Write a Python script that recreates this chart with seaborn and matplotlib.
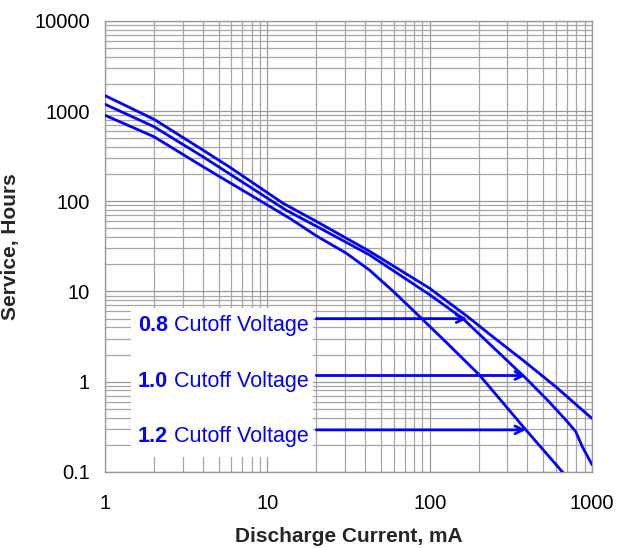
import matplotlib
matplotlib.use('Agg')
import matplotlib.pyplot as plt
import matplotlib.patches as patches
import seaborn as sns
import pandas as pd

# service hours vs discharge current, one curve per cutoff voltage
current_08 = [1, 2, 4, 5.87, 12.5, 20, 42.5, 99.5, 171, 244, 372, 597, 1000]
hours_08 = [1486, 813, 371, 239, 95, 60, 28, 10.9, 5.27, 3.16, 1.75, 0.88, 0.39]

current_10 = [1, 2, 4, 5.87, 13, 20, 42.5, 100, 159, 391, 543, 688, 793, 871, 1000]
hours_10 = [1192, 673, 313, 201, 80, 53, 25.5, 9.2, 5.06, 1.09, 0.60, 0.377, 0.28, 0.19, 0.12]

current_12 = [1, 2, 4, 5.87, 13.7, 20, 30.6, 42.5, 59, 82, 130, 202, 391, 656, 720]
hours_12 = [900, 521, 243, 161, 65, 41.5, 26.6, 17.3, 10.2, 5.8, 2.6, 1.19, 0.292, 0.1, 0.083]

cutoff_labels = ['0.8', '1.0', '1.2']
arrow_hours = [5.0, 1.17, 0.292]
arrow_current = [170, 391, 391]

df = pd.concat([
    pd.DataFrame({'current': current_08, 'hours': hours_08, 'cutoff': '0.8'}),
    pd.DataFrame({'current': current_10, 'hours': hours_10, 'cutoff': '1.0'}),
    pd.DataFrame({'current': current_12, 'hours': hours_12, 'cutoff': '1.2'}),
])

sns.set_theme(style="white")
plt.rcParams['font.family'] = ['Liberation Sans', 'DejaVu Sans']

fig, ax = plt.subplots(figsize=(6.18, 5.48), dpi=100)
fig.subplots_adjust(left=0.170, right=0.958, bottom=0.139, top=0.9617)

ax.set_xscale('log')
ax.set_yscale('log')
ax.set_xlim(1, 1000)
ax.set_ylim(0.1, 10000)

sns.lineplot(data=df, x='current', y='hours', hue='cutoff',
             palette={c: '#0000ff' for c in cutoff_labels},
             linewidth=2.0, legend=False, ax=ax, zorder=3)

ax.set_axisbelow(True)
ax.grid(which='major', color='#999999', linewidth=0.9)
ax.grid(which='minor', color='#a6a6a6', linewidth=0.9)
for s in ax.spines.values():
    s.set_color('#999999')
    s.set_linewidth(1)

# white box behind the labels
ax.add_patch(patches.Rectangle((1.445, 0.147), 19 - 1.445, 6.57 - 0.147,
                               facecolor='white', edgecolor='none', zorder=1))

ax.set_xticks([1, 10, 100, 1000])
ax.set_xticklabels(['1', '10', '100', '1000'])
ax.set_yticks([0.1, 1, 10, 100, 1000, 10000])
ax.set_yticklabels(['0.1', '1', '10', '100', '1000', '10000'])
ax.tick_params(axis='both', which='both', length=0, labelsize=14.5, colors='black')
ax.tick_params(axis='x', pad=16)
ax.tick_params(axis='y', pad=11)

ax.set_xlabel('Discharge Current, mA', fontsize=15, fontweight='bold', labelpad=10)
ax.set_ylabel('Service, Hours', fontsize=15, fontweight='bold', labelpad=10)

for lab, yv, xt in zip(cutoff_labels, arrow_hours, arrow_current):
    ax.annotate('', xy=(xt, yv), xytext=(20, yv),
                arrowprops=dict(arrowstyle='->', color='#0000ff', lw=2.0,
                                mutation_scale=14, shrinkA=0, shrinkB=0),
                zorder=4)
    t1 = ax.annotate(lab, xy=(0.0676, yv), xycoords=('axes fraction', 'data'),
                     xytext=(0, -8.6), textcoords='offset points',
                     fontsize=15.5, fontweight='bold', color='#0000ff',
                     ha='left', va='baseline', zorder=5)
    ax.annotate(' Cutoff Voltage', xy=(1, 0), xycoords=t1,
                fontsize=15.5, color='#0000ff', ha='left', va='bottom', zorder=5)

fig.savefig('out.png', dpi=100)
